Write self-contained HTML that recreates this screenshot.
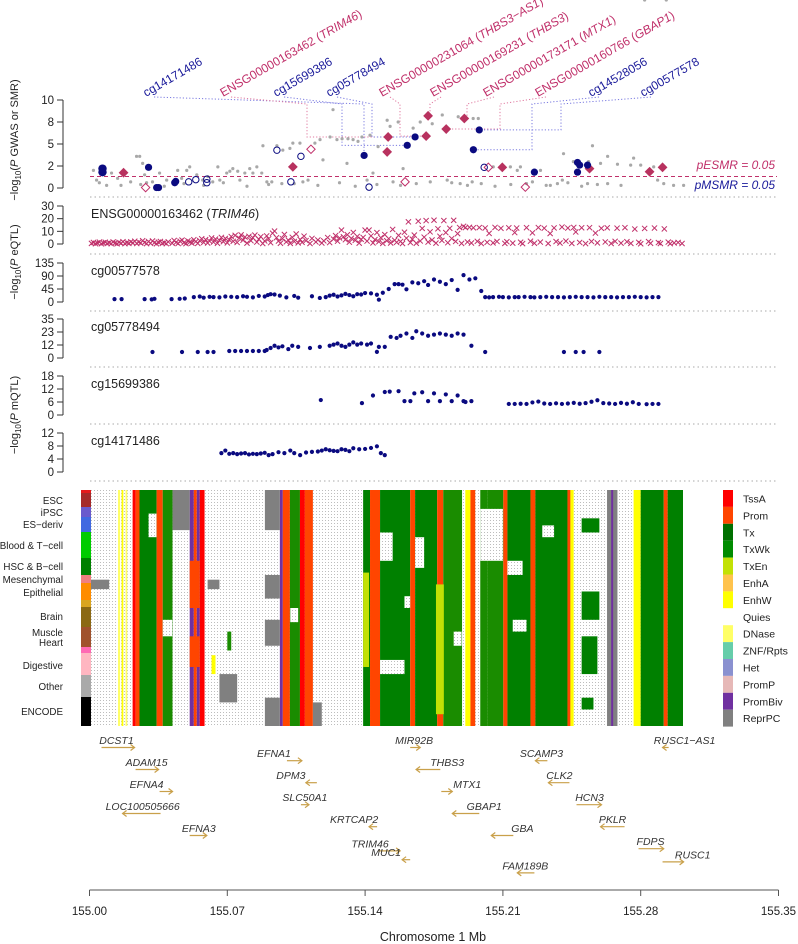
<!DOCTYPE html>
<html><head><meta charset="utf-8"><title>SMR locus plot</title>
<style>
html,body{margin:0;padding:0;background:#fff;}
svg{display:block;font-family:"Liberation Sans",Arial,sans-serif;}
</style></head>
<body>
<svg id="chart" xmlns="http://www.w3.org/2000/svg" width="798" height="944" viewBox="0 0 798 944">
<defs>
<pattern id="quies" x="0" y="0" width="3" height="3" patternUnits="userSpaceOnUse">
<rect x="0" y="0" width="3" height="3" fill="#fff"/>
<rect x="1" y="1" width="1" height="1" fill="#bdbdbd"/>
</pattern>
</defs>
<g id="axes"></g>
<g id="heat"></g>
<g id="marks"></g>
<g id="genes"></g>
<g id="labels"></g>
</svg>
<script>
// ---------- DATA (positions in kb from 155.000 Mb) ----------
var xTicks = [155.00, 155.07, 155.14, 155.21, 155.28, 155.35];
var xTickLabels = ["155.00","155.07","155.14","155.21","155.28","155.35"];

var gwasKb = [2,3.6,8.7,11.2,14.3,20.9,23.9,25.5,27,28,29,32,35.6,39.2,44.8,46.8,49.4,50.9,54.5,57.5,60.1,62.6,65.2,66.2,69.7,71.3,72.8,75.3,76.4,78.9,81.4,83,85,87.5,88.1,90.1,92.6,95.2,97.7,98.2,101.8,103.3,106.9,108.4,111,114.5,117.1,118.6,122.2,123.7,125.7,128.3,130.8,131.3,133.9,136.4,138.4,141,142.5,144,146.6,151.2,152.7,154.2,156.8,164.4,168,174.1,179.2,187.3,194.9,197.5,159.3,173.1,181.7,188.3,194.4,199,205.1,213.8,218.9,229.1,217.3,225,237.7,240.2,240.8,245.8,253.5,255.5,259.6,263.2,268.2,274.9,276.4,280,286.6,288.6,291.7,296.7,301.8,234.1,253,263.2,5,16,26,38,48,58,68,80,91,104,116,127,135,146,158,166,184,192,206,214,222,232,243,250,258,270,282,293];
var gwasVal = [2.0,0.9,0.3,1.7,1.1,0.7,3.6,3.6,2.8,1.5,0.6,0.7,1.7,0.9,2.0,1.1,2.0,2.4,1.5,0.9,1.3,0.7,2.4,0.9,1.7,1.9,2.2,1.9,0.9,1.7,2.2,1.7,2.4,1.7,4.8,0.7,0.7,4.8,0.5,4.3,4.5,5.1,5.1,0.7,0.9,5.1,5.5,3.2,5.8,8.9,5.5,5.6,2.8,5.6,5.5,5.3,5.8,0.9,6.0,1.7,4.7,7.7,7.0,0.7,7.5,6.8,7.5,7.3,8.3,8.1,7.9,7.9,2.2,0.7,0.9,0.5,0.7,0.5,2.4,2.4,2.4,2.0,2.0,0.7,0.5,0.9,3.9,3.0,3.0,4.8,2.8,3.6,2.7,2.6,3.4,2.6,2.4,0.9,0.5,0.3,0.3,0.3,0.5,0.5,0.6,0.3,0.4,0.2,0.5,0.3,0.6,0.2,0.4,0.5,0.3,0.6,0.2,0.4,0.3,0.5,0.6,0.3,0.2,0.4,0.5,0.3,0.6,0.2,0.4,0.3];

var smrEKb = [17.3,103.3,151.7,151.2,172,171,181.2,190.4,209.7,254,284.5,291.1];
var smrEVal = [1.74,2.4,5.8,4.1,8.2,5.9,6.7,7.9,2.35,2.2,1.85,2.35];
var smrEOpenKb = [28.5,112.5,160.3,221.4,202.6];
var smrEOpenVal = [0.05,4.4,0.7,0.1,2.35];
var smrMKb = [6.6,6.6,30,34.1,35.1,43.3,43.8,139.5,161.4,165.4,198,195,226,247.9,249,247.9,253];
var smrMVal = [1.8,2.2,2.35,0.05,0.05,0.6,0.75,3.7,4.85,5.8,6.6,4.35,1.8,2.9,2.6,1.8,2.6];
var smrMOpenKb = [95.2,107.4,102.3,142,50.4,54,59.6,59.6,200.5];
var smrMOpenVal = [4.3,3.6,0.7,0.1,0.7,0.95,0.6,1.0,2.35];

var eqtlKb = [1,2,3,4,5,6,7,8,9,10,11,12,13,14,15,16,17,18,19,20,21,22,23,24,25,26,27,28,29,30,31,32,33,34,35,36,37,38,39,40,42,43,44,45,46,47,48,49,50,51,52,53,54,55,56,57,58,59,60,61,62,63,64,65,66,67,68,69,70,71,72,73,74,75,76,77,78,79,80,81,82,83,84,85,86,87,88,89,90,91,92,93,94,95,96,97,98,99,100,101,102,103,104,105,106,107,108,109,110,112,113,115,116,118,119,121,122,124,125,126,127,128,129,130,131,132,133,134,135,136,137,138,139,140,141,142,143,144,145,146,147,148,149,150,151,152,153,154,155,156,157,158,159,160,161,162,163,164,165,166,167,168,169,170,171,172,173,174,175,176,177,178,179,180,181,182,183,184,185,186,187,188,189,190,191,192,193,194,195,197,198,199,201,202,203,205,206,207,209,211,212,213,215,216,217,219,220,222,224,225,226,228,229,231,233,234,236,237,239,240,242,243,245,246,247,249,250,252,254,255,257,258,260,262,263,265,267,268,270,272,273,275,277,279,280,282,284,285,287,289,290,292,294,295,297,299,301];
var eqtlVal = [0.5,1.2,0.3,0.8,1.5,0.2,0.9,1.4,0.4,1,0.3,1.6,0.7,0.2,1.3,0.6,1.8,0.3,1.1,0.5,1.7,0.9,2.2,0.4,1.5,0.8,2.6,1.2,0.3,1.9,0.6,2.4,1,0.2,1.4,2,0.5,1.1,0.3,1.7,0.6,2.8,1.3,0.4,2.2,3.1,1,0.3,2.5,1.6,0.7,3.4,1.9,0.5,2.7,4.1,1.2,3.5,0.8,2.3,4.8,1.5,3.9,0.6,2.9,5.2,1.8,4.4,0.9,3.3,5.9,2.1,6.8,1.2,4.6,7.2,3,5.5,0.7,6.1,2.6,4.9,7,1.5,3.8,5.8,0.4,2.4,6.4,4.1,1,8.5,10.2,5,2.3,0.6,4.2,7.5,1.7,3.1,0.5,5.3,2,7.9,0.9,3.6,1.3,6.2,2.7,0.4,4.4,1.6,3.2,0.8,2.5,5.1,1.1,3.9,6.6,2.2,4.8,11,5.7,3.4,7.3,1.4,4.5,9.1,2.9,6,0.7,3.7,5.2,11,2.3,11,6.4,0.9,3.5,9,1.8,5,0.5,7.4,2.6,4.2,0.8,11.5,3,1.3,6.8,2,0.4,9.3,4.6,17.5,1.1,3.8,7,0.6,18,2.4,12.3,5.4,18.5,1.5,9.6,3.2,18.8,0.7,12,6.1,2.8,18.5,9,1,12.4,4.3,18.7,2,8.2,13,0.5,14,13,1.6,13.2,0.8,12.8,2.1,13,0.4,12.6,1.3,8.4,0.9,13.1,2,12.4,0.5,1.8,12.8,0.7,9,12.6,1.4,0.3,12.9,2.2,8.8,0.6,13,1.5,12.5,0.4,8.3,12.7,1.9,0.8,13.4,2.3,12.6,0.5,13.1,9.5,1.2,12.8,0.3,12.9,2,8.6,0.9,12.4,1.6,12.8,0.4,2.1,12.5,0.7,12.9,1.8,0.5,11.8,1.3,0.2,12.3,1.9,0.6,12.6,1.1,0.4,11.9,1.5,0.3,0.9,1.2,0.4];

var m1Kb = [12.7,16.3,28,31.6,33,41.7,45.8,48.4,53,56,58,61,63,66,69,72,75,78,80,83,86,89,90.6,92,94,96.7,100,104,106,113,117,120,122,124,126,128,130,132,134,136,138,140,143,146,147,149,152,155,157,159,161,164,167,170,172,175,178,181,184,187,190,193,196,199,201,203,205,208,210,213,216,218,221,224,226,229,232,235,238,241,244,247,250,253,256,259,262,265,268,271,274,277,280,283,286,289];
var m1Val = [10,10,10,9,11,10,11,12,17,19,15,18,17,16,19,18,17,20,18,16,21,19,24,27,26,22,16,21,15,20,14,17,22,25,19,23,28,24,20,27,26,31,30,25,8,32,45,62,62,60,44,68,65,72,59,78,70,62,76,42,93,78,82,38,17,16,17,18,17,16,17,17,18,17,16,17,18,17,17,16,17,18,17,17,16,18,17,17,16,17,17,18,17,16,17,17];
var m2Kb = [32,47,55,60,63,71,74,77,80,83,86,89,90,92,94,96,98,101,103,106,112,117,122,124,126,128,130,132,134,136,138,141,143,146,147,150,153,156,158,161,164,166,169,172,175,178,181,184,187,190,194,201,241,247,251,259];
var m2Val = [5.4,5.4,5.4,5.4,5.4,6.3,6.3,6.3,6.3,6.3,6.3,6.3,7.2,9,11,9.5,10.5,8,11,10,9,10,11,12,13,11,10,12,14,12,13,12,13,5.5,10,10,19,18,20,22,18,24,22,20,21,22,21,20,22,21,11,5.4,5.4,5.4,5.4,5.4];
var m3Kb = [117.5,138.4,144,150,152.5,157,160,163,165,169,172,175,178,181,184,187,190,191,194,213,216,219,222,225,228,231,234,237,240,243,246,249,252,255,258,261,264,267,270,273,276,279,283,286,289];
var m3Val = [6.9,5.5,9,10.6,10.8,11,6.4,6.4,10,10.5,6.4,10,6.4,9.5,6.4,9,6.4,6,6.4,5.1,5.1,5.2,5.1,5.8,6.2,5.3,5.1,5.4,5.1,5.3,5.6,5.2,5.5,6.1,6.8,5.5,5.3,5.1,5.6,5.2,5.9,5.1,5.0,5.1,5.1];
var m4Kb = [67,69,71,73,75,77,79,81,83,85,87,89,91,93,96,99,102,104,107,110,113,116,118,120,122,124,126,128,130,132,134,137,140,143,146,148,150];
var m4Val = [5.8,6.6,5.6,5.8,5.5,5.7,5.8,5.4,5.6,5.5,5.7,5.9,5.2,5.5,6.1,5.8,6.6,5.8,5.2,6.0,6.2,6.3,6.6,7.0,6.7,6.5,6.4,7.0,6.8,6.4,7.3,7.0,7.1,7.4,7.9,5.8,5.2];

var annotNames = ["cg14171486","ENSG00000163462 (TRIM46)","cg15699386","cg05778494","ENSG00000231064 (THBS3\u2212AS1)","ENSG00000169231 (THBS3)","ENSG00000173171 (MTX1)","ENSG00000160766 (GBAP1)","cg14528056","cg00577578"];
var annotKb = [139.5,151.7,161.4,165.4,171,172,190.4,181.2,195,198];
var annotVal = [3.7,5.8,4.85,5.8,5.9,8.2,7.9,6.7,4.35,6.6];

var heatBands = [
 [0,21.9,"Q"],[14.5,15.5,"DNase"],[16.3,17.2,"EnhW"],[18.3,19.2,"DNase"],
 [21.9,23.5,"TssA"],[23.5,25.4,"Prom"],[25.4,34.1,"Tx"],[34.1,37.2,"Prom"],[37.2,42.2,"TxWk"],
 [42.2,50.9,"Q"],[50.9,53,"PromBiv"],[53,54.5,"Prom"],[54.5,56,"PromBiv"],[56,58.5,"TssA"],
 [58.5,89.1,"Q"],[89.1,96.7,"Q"],[96.7,98.2,"PromBiv"],[98.2,101.8,"Prom"],[101.8,106.9,"TxWk"],
 [106.9,109.4,"TssA"],[109.4,113.5,"Prom"],[113.5,139,"Q"],[139,142.5,"Tx"],[142.5,147.6,"Prom"],
 [147.6,162.9,"Tx"],[162.9,165.4,"Prom"],[165.4,176.6,"Tx"],[176.6,179.7,"Prom"],[179.7,189.3,"TxWk"],
 [189.3,190.9,"Q"],[190.9,193.5,"EnhW"],[193.5,196,"Prom"],[196,198.5,"Q"],[198.5,202.1,"TxWk"],
 [202.1,210.2,"TxWk"],[210.2,212.3,"Prom"],[212.3,224,"Tx"],[224,226.5,"Prom"],[226.5,242.8,"Tx"],
 [242.8,244.3,"Prom"],[244.3,246,"EnhW"],[246,249.4,"Q"],[249.4,262.9,"Q"],[262.9,268.2,"ReprPC"],
 [265,266,"PromBiv"],[268.2,276.4,"Q"],[276.4,280,"EnhW"],[280,291.7,"Tx"],[291.7,293.7,"Prom"],[293.7,301.8,"Tx"]
];
var heatPatches = [
 [42.2,50.9,0.0,0.17,"ReprPC"],[89.1,96.7,0.0,0.17,"ReprPC"],[89.1,96.7,0.36,0.46,"ReprPC"],[89.1,96.7,0.55,0.66,"ReprPC"],[89.1,96.7,0.88,1.0,"ReprPC"],
 [113.5,118,0.9,1.0,"ReprPC"],[60,66,0.38,0.42,"ReprPC"],[0,10,0.38,0.42,"ReprPC"],[66,75,0.78,0.9,"ReprPC"],
 [147.6,154,0.18,0.3,"Q"],[165.4,170,0.2,0.33,"Q"],[198.5,210,0.08,0.3,"Q"],[250,259,0.12,0.18,"Tx"],[250,259,0.43,0.55,"Tx"],[250,258,0.62,0.78,"Tx"],[250,256,0.88,0.93,"Tx"],
 [30,34,0.1,0.2,"Q"],[37.2,42,0.55,0.62,"Q"],[147.6,160,0.72,0.78,"Q"],[212.3,220,0.3,0.36,"Q"],[139,142,0.35,0.75,"TxEn"],[176,180,0.4,0.95,"TxEn"],[102,106,0.5,0.56,"Q"],
 [50.9,56,0.3,0.5,"Prom"],[50.9,56,0.62,0.75,"Prom"],[215,222,0.55,0.6,"Q"],[230,236,0.15,0.2,"Q"],[185,189,0.6,0.66,"Q"],[160,162.9,0.45,0.5,"Q"],[62,64,0.7,0.78,"EnhW"],[70,72,0.6,0.68,"TxWk"]
];
var stateColor = {TssA:"#ff0000",Prom:"#ff4500",Tx:"#008000",TxWk:"#1a8c00",TxEn:"#c2e105",EnhA:"#ffc34d",EnhW:"#ffff00",Q:"url(#quies)",DNase:"#ffff66",ZNF:"#66cdaa",Het:"#8a91d0",PromP:"#e6b8b7",PromBiv:"#7030a0",ReprPC:"#808080"};
var legendNames = ["TssA","Prom","Tx","TxWk","TxEn","EnhA","EnhW","Quies","DNase","ZNF/Rpts","Het","PromP","PromBiv","ReprPC"];
var legendColors = ["#ff0000","#ff4500","#007000","#008c00","#c2e105","#ffc34d","#ffff00","#ffffff","#ffff66","#66cdaa","#8a91d0","#e6b8b7","#7030a0","#808080"];
var groupNames = ["ESC","iPSC","ES\u2212deriv","Blood & T\u2212cell","HSC & B\u2212cell","Mesenchymal","Epithelial","Brain","Muscle","Heart","Digestive","Other","ENCODE"];
var groupLabelY = [500,512,524,545,566,579,592,616,632,642,665,686,711];
var sideSegs = [[490,493,"#e41a1c"],[493,507,"#a52a2a"],[507,517,"#6a5acd"],[517,532,"#4169e1"],[532,558,"#00cc00"],[558,575,"#008000"],[575,583,"#f08080"],[583,600,"#ff8c00"],[600,607,"#daa520"],[607,627,"#8b6914"],[627,647,"#a0522d"],[647,653,"#ff69b4"],[653,675,"#ffb6c1"],[675,697,"#a9a9a9"],[697,726,"#000000"]];

var genes = [
 ["DCST1",6.1,22.9,1,13.7,0],["ADAM15",23.4,35.1,1,29,1],["EFNA4",35.6,42.2,1,29,2],["LOC100505666",16.8,36.1,-1,27,3],["EFNA3",50.9,59.6,1,55.5,4],
 ["EFNA1",100.3,107.9,1,93.7,0.6],["DPM3",109.9,115.5,-1,102.3,1.6],["SLC50A1",107.4,111.5,1,109.4,2.6],["KRTCAP2",142,146.1,-1,134.4,3.6],["TRIM46",146.6,157.8,1,142.5,4.7],["MUC1",158.8,162.9,-1,150.7,5.1],
 ["MIR92B",162.9,168,1,164.9,0],["THBS3",165.9,178.2,-1,181.7,1],["MTX1",178.7,184.3,1,191.9,2],["GBAP1",184.3,198,-1,200.5,3],["GBA",204.1,215.3,-1,219.9,4],["FAM189B",217.3,226,-1,221.4,5.7],
 ["SCAMP3",226.5,232.6,-1,229.6,0.6],["CLK2",233.1,243.8,-1,238.7,1.6],["HCN3",247.4,260.1,1,254,2.6],["PKLR",259.6,271.8,-1,265.7,3.6],["FDPS",278.9,291.7,1,285,4.6],["RUSC1",291.1,301.8,1,306.4,5.2],["RUSC1\u2212AS1",291.1,294.2,-1,302.3,0]
];

// ---------- SCALES ----------
var NS = "http://www.w3.org/2000/svg";
function xMb(mb){ return 89.5 + (mb - 155.0) / 0.07 * 137.8; }
function xKb(kb){ return xMb(155 + kb / 1000); }
function yLin(v, max, yTop, yBot){ return yBot - v / max * (yBot - yTop); }
function mk(tag, attrs, parent){ var e = document.createElementNS(NS, tag); for (var k in attrs) e.setAttribute(k, attrs[k]); parent.appendChild(e); return e; }

var axes = document.getElementById("axes");
var marks = document.getElementById("marks");
var labels = document.getElementById("labels");
var heat = document.getElementById("heat");
var gtrack = document.getElementById("genes");

var panels = [
 {name:"gwas", max:10, top:100, bot:188, ticks:[0,2.5,5,7.5,10], tl:["0","2","5","8","10"]},
 {name:"eqtl", max:30, top:206, bot:244, ticks:[0,10,20,30], tl:["0","10","20","30"]},
 {name:"cg00577578", max:135, top:263, bot:302, ticks:[0,45,90,135], tl:["0","45","90","135"]},
 {name:"cg05778494", max:35, top:319, bot:358, ticks:[0,11.67,23.33,35], tl:["0","12","23","35"]},
 {name:"cg15699386", max:18, top:376, bot:415, ticks:[0,6,12,18], tl:["0","6","12","18"]},
 {name:"cg14171486", max:12, top:433, bot:472, ticks:[0,4,8,12], tl:["0","4","8","12"]}
];
var sepY = [197,254,311,367,424,481];

panels.forEach(function(p){
  var g = mk("g", {}, axes);
  
  
  mk("line", {x1:63, x2:63, y1:p.top, y2:p.bot, stroke:"#333", "stroke-width":1}, g);
  p.ticks.forEach(function(t, i){
    var y = yLin(t, p.max, p.top, p.bot);
    mk("line", {x1:57, x2:63, y1:y, y2:y, stroke:"#333", "stroke-width":1}, g);
    var tx = mk("text", {x:54, y:y + 4, "text-anchor":"end", "font-size":"11.5", fill:"#222"}, g);
    tx.textContent = p.tl[i];
  });
});
sepY.forEach(function(y){
  var l = mk("line", {x1:90, x2:777, y1:y, y2:y, stroke:"#aaa", "stroke-width":1, "stroke-dasharray":"1.5,3"}, axes);
  
  
});

function vtitle(rest, cx, cy, name){
  var t = mk("text", {x:0, y:0, transform:"translate(" + cx + "," + cy + ") rotate(-90)", "text-anchor":"middle", "font-size":"11", fill:"#222"}, labels);
  
  
  var a = mk("tspan", {}, t); a.textContent = "\u2212log";
  var b = mk("tspan", {"font-size":"8", dy:"3"}, t); b.textContent = "10";
  var c = mk("tspan", {dy:"-3"}, t); c.textContent = "(";
  var d = mk("tspan", {"font-style":"italic"}, t); d.textContent = "P";
  var e = mk("tspan", {}, t); e.textContent = rest;
}
vtitle(" GWAS or SMR)", 18, 140, "gwas-y-axis-title");
vtitle(" eQTL)", 18, 262, "eqtl-y-axis-title");
vtitle(" mQTL)", 18, 415, "mqtl-y-axis-title");

var P0 = panels[0];
var thrY = yLin(1.3, P0.max, P0.top, P0.bot);
var thr = mk("line", {x1:90, x2:777, y1:thrY, y2:thrY, stroke:"#c0306a", "stroke-width":1, "stroke-dasharray":"4,3"}, marks);


var te = mk("text", {x:775, y:169, "text-anchor":"end", "font-size":"12", "font-style":"italic", fill:"#c0306a"}, labels);
te.textContent = "pESMR = 0.05";


var tm = mk("text", {x:775, y:189, "text-anchor":"end", "font-size":"12", "font-style":"italic", fill:"#1a1a9a"}, labels);
tm.textContent = "pMSMR = 0.05";



function gy(v){ return yLin(v, P0.max, P0.top, P0.bot); }

var annotLabelX = [146,223,276,329,382,433,486,538,591,643];
var annotColX = [364,307,342,372,400,430,467,500,532,561];
var annotColor = ["#1a1a9a","#c0306a","#1a1a9a","#1a1a9a","#c0306a","#c0306a","#c0306a","#c0306a","#1a1a9a","#1a1a9a"];
annotNames.forEach(function(n, i){
  var px = xKb(annotKb[i]), py = gy(annotVal[i]);
  var pts = [[annotLabelX[i] + 8, 97],[annotColX[i], 104],[annotColX[i], py],[px, py]];
  var pl = mk("polyline", {points: pts.map(function(p){return p.join(",");}).join(" "), fill:"none", stroke: annotColor[i] === "#c0306a" ? "#e07aa0" : "#7a7ae0", "stroke-width":1, "stroke-dasharray":"1.2,2"}, marks);
  
  
  var t = mk("text", {x:0, y:0, transform:"translate(" + annotLabelX[i] + ",97) rotate(-30)", "font-size":"12", fill:annotColor[i]}, labels);
  
  
  var m = n.match(/^(\S+) \((.*)\)$/);
  if (m) {
    var a = mk("tspan", {}, t); a.textContent = m[1] + " (";
    var b = mk("tspan", {"font-style":"italic"}, t); b.textContent = m[2];
    var c = mk("tspan", {}, t); c.textContent = ")";
  } else t.textContent = n;
});

gwasKb.forEach(function(k, i){
  var c = mk("circle", {cx:xKb(k), cy:gy(gwasVal[i]), r:1.6, fill:"#a8a8a8"}, marks);
  
  
});
function diamond(cx, cy, s, fill, stroke, parent){
  return mk("polygon", {points:[cx+","+(cy-s), (cx+s)+","+cy, cx+","+(cy+s), (cx-s)+","+cy].join(" "), fill:fill, stroke:stroke, "stroke-width":1}, parent);
}
smrEKb.forEach(function(k, i){
  var d = diamond(xKb(k), gy(smrEVal[i]), 4.2, "#b8325f", "#b8325f", marks);
  
  
});
smrEOpenKb.forEach(function(k, i){
  var d = diamond(xKb(k), gy(smrEOpenVal[i]), 4.2, "none", "#c0306a", marks);
  
  
});
smrMKb.forEach(function(k, i){
  var c = mk("circle", {cx:xKb(k), cy:gy(smrMVal[i]), r:i < 2 ? 4.2 : 3.6, fill:"#0a0a80"}, marks);
  
  
});
smrMOpenKb.forEach(function(k, i){
  var c = mk("circle", {cx:xKb(k), cy:gy(smrMOpenVal[i]), r:3.2, fill:"none", stroke:"#0a0a80", "stroke-width":1}, marks);
  
  
});

var P1 = panels[1];
eqtlKb.forEach(function(k, i){
  var x = xKb(k), y = yLin(eqtlVal[i], P1.max, P1.top, P1.bot), s = 2.6;
  var p = mk("path", {d:"M"+(x-s)+","+(y-s)+"L"+(x+s)+","+(y+s)+"M"+(x-s)+","+(y+s)+"L"+(x+s)+","+(y-s), stroke:"#c0306a", "stroke-width":1, fill:"none"}, marks);
  
  
});
var eqLbl = mk("text", {x:91, y:218, "font-size":"12.5", fill:"#222"}, labels);


(function(){ var a = mk("tspan", {}, eqLbl); a.textContent = "ENSG00000163462 ("; var b = mk("tspan", {"font-style":"italic"}, eqLbl); b.textContent = "TRIM46"; var c = mk("tspan", {}, eqLbl); c.textContent = ")"; })();

var mSets = [[m1Kb, m1Val, panels[2]],[m2Kb, m2Val, panels[3]],[m3Kb, m3Val, panels[4]],[m4Kb, m4Val, panels[5]]];
mSets.forEach(function(s){
  var p = s[2];
  s[0].forEach(function(k, i){
    var c = mk("circle", {cx:xKb(k), cy:yLin(s[1][i], p.max, p.top, p.bot), r:2.1, fill:"#0a0a80"}, marks);
    
    
  });
  var t = mk("text", {x:91, y:p.top + 12, "font-size":"12.5", fill:"#222"}, labels);
  t.textContent = p.name;
  
  
});

var HT = 490, HB = 726, HX0 = 91, HX1 = 683;
var bg = mk("rect", {x:HX0, y:HT, width:HX1-HX0, height:HB-HT, fill:"url(#quies)"}, heat);


heatBands.forEach(function(b){
  var x0 = Math.max(HX0, xKb(b[0])), x1 = Math.min(HX1, xKb(b[1]));
  var r = mk("rect", {x:x0, y:HT, width:Math.max(0.5, x1-x0), height:HB-HT, fill:stateColor[b[2]]}, heat);
  
  
});
heatPatches.forEach(function(b){
  var x0 = Math.max(HX0, xKb(b[0])), x1 = Math.min(HX1, xKb(b[1]));
  var r = mk("rect", {x:x0, y:HT + b[2]*(HB-HT), width:x1-x0, height:(b[3]-b[2])*(HB-HT), fill:stateColor[b[4]]}, heat);
  
  
});
sideSegs.forEach(function(s){
  var r = mk("rect", {x:81, y:s[0], width:10, height:s[1]-s[0], fill:s[2]}, heat);
  
  
});
groupNames.forEach(function(n, i){
  var t = mk("text", {x:63, y:groupLabelY[i] + 4, "text-anchor":"end", "font-size":"9.8", fill:"#222"}, labels);
  t.textContent = n;
  
  
});
legendNames.forEach(function(n, i){
  var y = 490 + i * 16.9;
  var r = mk("rect", {x:723, y:y, width:10, height:16.9, fill:legendColors[i]}, labels);
  
  
  var t = mk("text", {x:743, y:y + 12.5, "font-size":"10.5", fill:"#222"}, labels);
  t.textContent = n;
  
  
});

var rowLabelY = 740, rowStep = 22;
genes.forEach(function(g){
  var x0 = xKb(g[1]), x1 = xKb(g[2]), row = g[5];
  var ly = rowLabelY + row * rowStep;
  var ay = ly + 7.5;
  var grp = mk("g", {}, gtrack);
  
  
  mk("line", {x1:x0, x2:x1, y1:ay, y2:ay, stroke:"#c9a04a", "stroke-width":1.2}, grp);
  var hx = g[3] > 0 ? x1 : x0, d = g[3] > 0 ? -4 : 4;
  mk("path", {d:"M"+(hx+d)+","+(ay-3)+"L"+hx+","+ay+"L"+(hx+d)+","+(ay+3), stroke:"#c9a04a", "stroke-width":1.2, fill:"none"}, grp);
  var t = mk("text", {x:xKb(g[4]), y:ly + 4, "text-anchor":"middle", "font-size":"10.5", "font-style":"italic", fill:"#333"}, grp);
  t.textContent = g[0];
});

var xa = mk("g", {}, axes);


mk("line", {x1:xMb(xTicks[0]), x2:xMb(xTicks[xTicks.length-1]), y1:890, y2:890, stroke:"#555", "stroke-width":1}, xa);
xTicks.forEach(function(t, i){
  var x = xMb(t);
  mk("line", {x1:x, x2:x, y1:890, y2:896, stroke:"#555", "stroke-width":1}, xa);
  var tx = mk("text", {x:x, y:915, "text-anchor":"middle", "font-size":"11.5", fill:"#222"}, xa);
  tx.textContent = xTickLabels[i];
});
var xt = mk("text", {x:433, y:941, "text-anchor":"middle", "font-size":"12.5", fill:"#222"}, labels);
xt.textContent = "Chromosome 1 Mb";


</script>
</body></html>
